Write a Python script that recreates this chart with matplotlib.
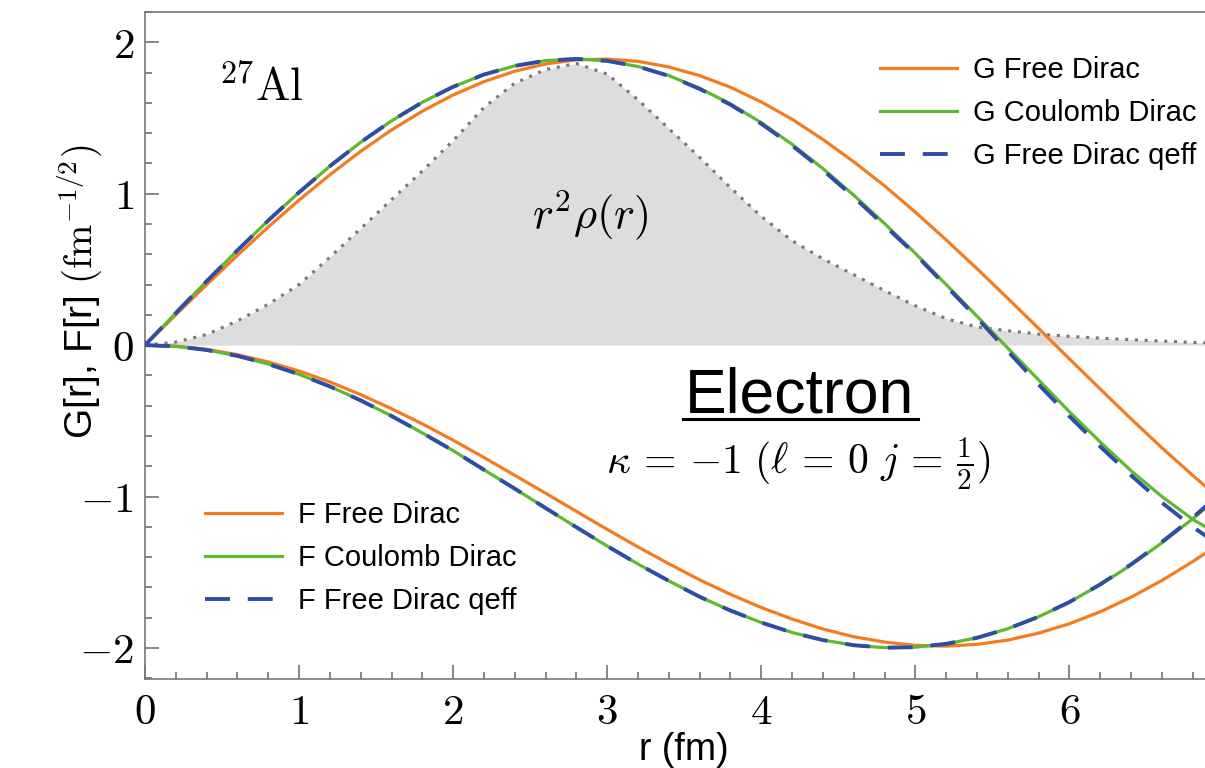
import numpy as np
import matplotlib
matplotlib.use("Agg")
import matplotlib.pyplot as plt
from matplotlib.ticker import MultipleLocator

plt.rcParams['font.family'] = ['Liberation Sans', 'DejaVu Sans']
plt.rcParams['mathtext.fontset'] = 'cm'

# radius grid (fm)
r = [0.0, 0.2, 0.4, 0.6, 0.8, 1.0, 1.2, 1.4, 1.6, 1.8, 2.0, 2.2, 2.4, 2.6, 2.8,
     3.0, 3.2, 3.4, 3.6, 3.8, 4.0, 4.2, 4.4, 4.6, 4.8, 5.0, 5.2, 5.4, 5.6, 5.8,
     6.0, 6.2, 6.4, 6.6, 6.8, 6.9]

# r^2 rho(r) (shaded)
r2rho = [0.0, 0.02, 0.07, 0.16, 0.27, 0.40, 0.58, 0.77, 0.96, 1.15, 1.35, 1.57,
         1.73, 1.82, 1.86, 1.79, 1.62, 1.43, 1.24, 1.04, 0.85, 0.69, 0.57, 0.465,
         0.36, 0.26, 0.175, 0.12, 0.095, 0.073, 0.058, 0.046, 0.036, 0.027, 0.018,
         0.015]

# upper components G
g_free = [0.0, 0.200, 0.399, 0.593, 0.780, 0.958, 1.125, 1.280, 1.421, 1.545,
          1.652, 1.740, 1.809, 1.857, 1.884, 1.889, 1.874, 1.837, 1.780, 1.703,
          1.606, 1.492, 1.358, 1.211, 1.052, 0.878, 0.695, 0.505, 0.309, 0.110,
          -0.091, -0.290, -0.487, -0.678, -0.860, -0.948]
g_coul = [0.0, 0.212, 0.422, 0.626, 0.823, 1.009, 1.182, 1.340, 1.481, 1.604,
          1.706, 1.787, 1.844, 1.879, 1.890, 1.877, 1.840, 1.780, 1.696, 1.593,
          1.469, 1.326, 1.166, 0.990, 0.803, 0.606, 0.400, 0.191, -0.02, -0.23,
          -0.44, -0.64, -0.83, -1.00, -1.15, -1.21]
g_qeff = [0.0, 0.212, 0.422, 0.626, 0.823, 1.009, 1.182, 1.340, 1.481, 1.604,
          1.706, 1.787, 1.844, 1.879, 1.890, 1.877, 1.840, 1.778, 1.692, 1.588,
          1.462, 1.318, 1.156, 0.978, 0.790, 0.60, 0.39, 0.18, -0.04, -0.26,
          -0.47, -0.67, -0.86, -1.04, -1.20, -1.27]

# lower components F
f_free = [0.0, -0.007, -0.028, -0.063, -0.111, -0.171, -0.243, -0.327, -0.420,
          -0.520, -0.628, -0.742, -0.860, -0.978, -1.098, -1.217, -1.333, -1.444,
          -1.550, -1.646, -1.733, -1.809, -1.875, -1.926, -1.961, -1.983, -1.988,
          -1.976, -1.948, -1.902, -1.840, -1.761, -1.665, -1.554, -1.430, -1.362]
f_coul = [0.0, -0.008, -0.032, -0.071, -0.125, -0.193, -0.273, -0.365, -0.468,
          -0.580, -0.697, -0.823, -0.948, -1.076, -1.203, -1.327, -1.446, -1.557,
          -1.662, -1.753, -1.832, -1.898, -1.948, -1.982, -1.998, -1.995, -1.973,
          -1.933, -1.873, -1.794, -1.697, -1.582, -1.452, -1.306, -1.147, -1.062]
f_qeff = [0.0, -0.008, -0.032, -0.071, -0.125, -0.193, -0.273, -0.365, -0.468,
          -0.580, -0.697, -0.823, -0.948, -1.076, -1.203, -1.327, -1.446, -1.557,
          -1.662, -1.753, -1.832, -1.898, -1.948, -1.982, -1.998, -1.995, -1.973,
          -1.933, -1.873, -1.794, -1.697, -1.580, -1.448, -1.300, -1.140, -1.050]

ORANGE = '#F47C20'
GREEN = '#5DB832'
BLUE = '#2F4DA6'

fig = plt.figure(figsize=(12.05, 7.68), dpi=100)
ax = fig.add_axes([145 / 1205, 1 - 679 / 768, 1 - 145 / 1205, (679 - 12) / 768])

ax.fill_between(r, 0, r2rho, color='#DDDDDD', lw=0, zorder=1)
ax.plot(r, r2rho, color='#777777', lw=2.2, dashes=(1, 2.2), zorder=2)

hg1, = ax.plot(r, g_free, color=ORANGE, lw=2.3, zorder=3, label='G Free Dirac')
hg2, = ax.plot(r, g_coul, color=GREEN, lw=2.3, zorder=4, label='G Coulomb Dirac')
hg3, = ax.plot(r, g_qeff, color=BLUE, lw=2.8, dashes=(6.4, 4.6), zorder=5,
               label='G Free Dirac qeff')
hf1, = ax.plot(r, f_free, color=ORANGE, lw=2.3, zorder=3, label='F Free Dirac')
hf2, = ax.plot(r, f_coul, color=GREEN, lw=2.3, zorder=4, label='F Coulomb Dirac')
hf3, = ax.plot(r, f_qeff, color=BLUE, lw=2.8, dashes=(6.4, 4.6), zorder=5,
               label='F Free Dirac qeff')

ax.set_xlim(0, 6.88)
ax.set_ylim(-2.205, 2.2)

ax.set_xticks([0, 1, 2, 3, 4, 5, 6],
              [r'$0$', r'$1$', r'$2$', r'$3$', r'$4$', r'$5$', r'$6$'])
ax.set_yticks([-2, -1, 0, 1, 2], [r'$-2$', r'$-1$', r'$0$', r'$1$', r'$2$'])
ax.xaxis.set_minor_locator(MultipleLocator(0.2))
ax.yaxis.set_minor_locator(MultipleLocator(0.2))
ax.tick_params(which='both', direction='in', color='#666666', width=1.1,
               labelsize=31, top=False, right=False)
ax.tick_params(which='major', length=10)
ax.tick_params(which='minor', length=5)
ax.tick_params(axis='x', pad=10)
ax.tick_params(axis='y', pad=8)
for side in ['left', 'bottom', 'top']:
    ax.spines[side].set_color('#777777')
    ax.spines[side].set_linewidth(1.2)
ax.spines['right'].set_visible(False)

fig.text(80 / 1205, 1 - 292 / 768, r'G[r], F[r] $(\mathrm{fm}^{-1/2})$',
         rotation=90, ha='center', va='center', fontsize=28)
fig.text(684 / 1205, 1 - 750 / 768, 'r (fm)', ha='center', va='center',
         fontsize=27)

ax.text(0.75, 1.69, r'$^{27}\mathrm{Al}$', fontsize=33, ha='center', va='center')
ax.text(2.89, 0.86, r'$r^2\rho(r)$', fontsize=32, ha='center', va='center')
ax.text(4.25, -0.335, 'Electron', fontsize=45, ha='center', va='center')
ax.plot([(683 - 145) / 154, (918 - 145) / 154], [-0.485, -0.485], color='black',
        lw=2.2, zorder=6)
ax.text(4.24, -0.79, r'$\kappa\,=\,{-1}\ (\ell\,=\,0\ j\,=\,\frac{1}{2})$',
        fontsize=30, ha='center', va='center')

leg_kw = dict(loc='upper left', bbox_transform=fig.transFigure, frameon=False,
              fontsize=21, handlelength=2.64, handletextpad=0.55,
              labelspacing=0.52, borderpad=0, borderaxespad=0)
leg1 = ax.legend(handles=[hg1, hg2, hg3],
                 bbox_to_anchor=(880 / 1205, 1 - 56 / 768), **leg_kw)
ax.add_artist(leg1)
ax.legend(handles=[hf1, hf2, hf3],
          bbox_to_anchor=(205 / 1205, 1 - 501 / 768), **leg_kw)

fig.savefig('out.png', dpi=100)
